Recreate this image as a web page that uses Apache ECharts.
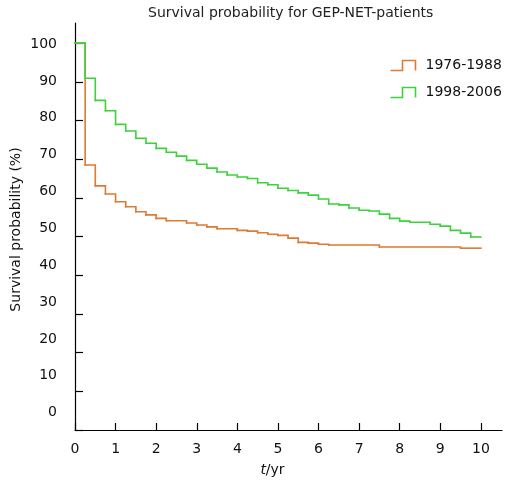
<!DOCTYPE html>
<html>
<head>
<meta charset="utf-8">
<script src="https://cdn.jsdelivr.net/npm/echarts@6/dist/echarts.min.js"></script>
<style>html,body{margin:0;padding:0;background:#fff}#c{width:514px;height:490px}</style>
</head>
<body>
<div id="c"></div>
<script>
var titleText = 'Survival probability for GEP-NET-patients';
var seriesNames = ['1976-1988', '1998-2006'];
var xTicks = [0, 1, 2, 3, 4, 5, 6, 7, 8, 9, 10];
var yTicks = [0, 10, 20, 30, 40, 50, 60, 70, 80, 90, 100];

// step times (years) and survival (%) for 1976-1988
var tOld = [0, 0.25, 0.5, 0.75, 1.0, 1.25, 1.5, 1.75, 2.0, 2.25, 2.75, 3.0, 3.25, 3.5, 4.0, 4.25, 4.5, 4.75, 5.0, 5.25, 5.5, 5.75, 6.0, 6.25, 7.5, 9.5, 10];
var sOld = [100, 68.5, 63.1, 61.0, 59.0, 57.7, 56.4, 55.6, 54.7, 54.1, 53.5, 53.0, 52.5, 52.0, 51.6, 51.4, 51.0, 50.6, 50.3, 49.6, 48.5, 48.3, 48.0, 47.8, 47.3, 47.0, 47.0];

// step times (years) and survival (%) for 1998-2006
var tNew = [0, 0.25, 0.5, 0.75, 1.0, 1.25, 1.5, 1.75, 2.0, 2.25, 2.5, 2.75, 3.0, 3.25, 3.5, 3.75, 4.0, 4.25, 4.5, 4.75, 5.0, 5.25, 5.5, 5.75, 6.0, 6.25, 6.5, 6.75, 7.0, 7.25, 7.5, 7.75, 8.0, 8.25, 8.75, 9.0, 9.25, 9.5, 9.75, 10];
var sNew = [100, 90.9, 85.2, 82.5, 79.0, 77.3, 75.4, 74.1, 72.8, 71.8, 70.8, 69.7, 68.7, 67.7, 66.7, 65.9, 65.4, 65.0, 63.9, 63.4, 62.5, 61.9, 61.3, 60.7, 59.7, 58.4, 58.2, 57.4, 56.8, 56.6, 55.8, 54.7, 54.0, 53.7, 53.2, 52.7, 51.6, 50.9, 49.9, 49.9];

var colOld = '#DD7A33';
var colNew = '#3DD23D';
var FONT = 'DejaVu Sans';
var LW = 1.6;

// each item: [t_i, t_next, s_i, s_next] -> horizontal run then drop
function steps(t, s) {
  var out = [];
  for (var i = 0; i < t.length - 1; i++) out.push([t[i], t[i + 1], s[i], s[i + 1]]);
  return out;
}
function stepRenderer(color) {
  return function (params, api) {
    var p0 = api.coord([api.value(0), api.value(2)]);
    var p1 = api.coord([api.value(1), api.value(2)]);
    var p2 = api.coord([api.value(1), api.value(3)]);
    return {
      type: 'polyline',
      shape: {points: [p0, p1, p2]},
      style: {stroke: color, lineWidth: LW, fill: null, lineCap: 'square', lineJoin: 'miter'}
    };
  };
}

var chart = echarts.init(document.getElementById('c'), null, {renderer: 'canvas'});
chart.setOption({
  animation: false,
  backgroundColor: '#fff',
  textStyle: {fontFamily: FONT},
  title: {
    text: titleText, left: 143, top: 1,
    textStyle: {fontFamily: FONT, fontSize: 14, fontWeight: 'normal', color: '#222'}
  },
  legend: {
    left: 388, top: 58, orient: 'vertical', padding: 0,
    itemWidth: 25, itemHeight: 10, itemGap: 12,
    textStyle: {fontFamily: FONT, fontSize: 14, color: '#111', lineHeight: 14, padding: [0, 0, 0, 5]},
    data: [
      {name: seriesNames[0], icon: 'path://M0,10 L12,10 L12,0 L25,0 L25,10',
       itemStyle: {color: 'none', borderColor: colOld, borderWidth: LW}},
      {name: seriesNames[1], icon: 'path://M0,10 L12,10 L12,0 L25,0 L25,10',
       itemStyle: {color: 'none', borderColor: colNew, borderWidth: LW}}
    ]
  },
  grid: {left: 75, right: 12, top: 23, bottom: 60, containLabel: false},
  xAxis: {
    type: 'value', min: 0, max: 10.52,
    name: '{i|t}/yr', nameLocation: 'middle', nameGap: 33,
    nameTextStyle: {fontFamily: FONT, fontSize: 14, color: '#111', padding: [0, 32, 0, 0],
      rich: {i: {fontStyle: 'italic', fontFamily: FONT, fontSize: 14, color: '#111'}}},
    axisLine: {show: true, onZero: false, lineStyle: {color: '#000', width: 1.2}},
    axisTick: {show: true, inside: true, length: 7, customValues: xTicks, lineStyle: {color: '#000', width: 1.2}},
    axisLabel: {customValues: xTicks, margin: 12, fontFamily: FONT, fontSize: 14, color: '#111'},
    splitLine: {show: false}
  },
  yAxis: [{
    type: 'value', min: 0, max: 105.2,
    name: 'Survival probability (%)', nameLocation: 'middle', nameGap: 52,
    nameTextStyle: {fontFamily: FONT, fontSize: 14, color: '#111', padding: [0, 6, 0, 0]},
    axisLine: {show: true, onZero: false, lineStyle: {color: '#000', width: 1.2}},
    axisTick: {show: true, inside: true, length: 8, customValues: yTicks, lineStyle: {color: '#000', width: 1.2}},
    axisLabel: {show: false},
    splitLine: {show: false}
  }, {
    type: 'value', min: -4.69, max: 105.7, position: 'left',
    axisLine: {show: false}, axisTick: {show: false},
    axisLabel: {customValues: yTicks, margin: 18, fontFamily: FONT, fontSize: 14, color: '#111'},
    splitLine: {show: false}
  }],
  series: [{
    name: seriesNames[0], type: 'custom', yAxisIndex: 0, z: 2,
    renderItem: stepRenderer(colOld), itemStyle: {color: colOld},
    encode: {x: [0, 1], y: [2, 3]},
    data: steps(tOld, sOld)
  }, {
    name: seriesNames[1], type: 'custom', yAxisIndex: 0, z: 3,
    renderItem: stepRenderer(colNew), itemStyle: {color: colNew},
    encode: {x: [0, 1], y: [2, 3]},
    data: steps(tNew, sNew)
  }]
});
</script>
</body>
</html>
